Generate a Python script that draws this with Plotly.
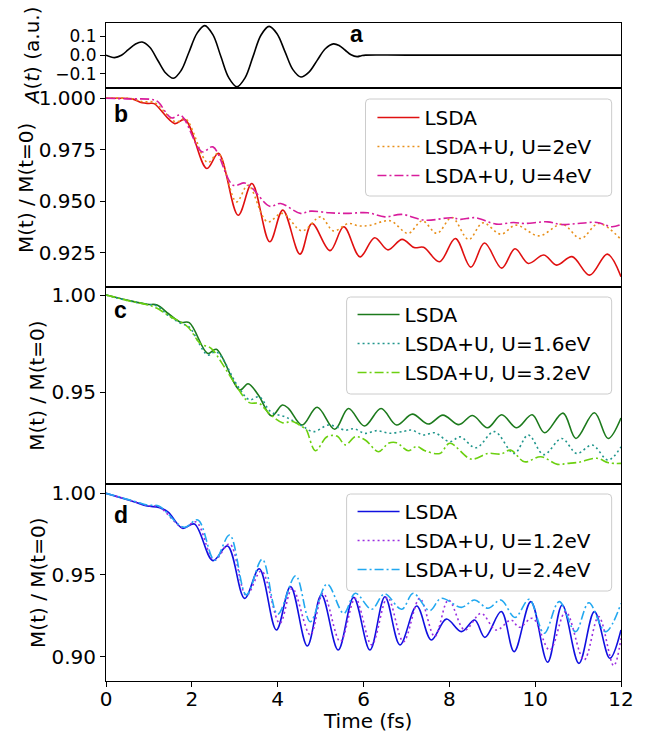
import plotly.graph_objects as go
from plotly.subplots import make_subplots

# ---------------- panel a: vector potential of the pump pulse ----------------
t_pulse = [0.0, 0.2, 0.36, 0.52, 0.68, 0.84, 1.02, 1.205, 1.39, 1.57, 1.75, 1.935,
           2.12, 2.30, 2.49, 2.675, 2.86, 3.05, 3.24, 3.425, 3.61, 3.80, 3.985,
           4.17, 4.355, 4.54, 4.73, 4.92, 5.11, 5.30, 5.44, 5.575, 5.71, 5.85,
           5.95, 6.05, 7.0, 12.0]
a_pulse = [0.0, -0.013, -0.001, 0.029, 0.058, 0.070, 0.042, -0.027, -0.095, -0.123,
           -0.082, 0.017, 0.116, 0.157, 0.109, -0.006, -0.120, -0.168, -0.121,
           -0.008, 0.106, 0.153, 0.114, 0.019, -0.077, -0.116, -0.090, -0.028,
           0.034, 0.060, 0.050, 0.026, 0.002, -0.008, -0.003, 0.0, 0.0, 0.0]

# ---------------- panel b ----------------
t_b_lsda = [0.0, 0.3, 0.61, 0.84, 1.0, 1.12, 1.60, 1.84, 2.35, 2.62, 3.08, 3.40,
            3.815, 4.12, 4.52, 4.80, 5.22, 5.54, 5.92, 6.26, 6.57, 6.90, 7.18,
            7.40, 7.77, 8.14, 8.50, 8.82, 9.22, 9.53, 9.84, 10.20, 10.50, 10.86,
            11.27, 11.68, 12.0]
m_b_lsda = [1.0000, 1.0000, 0.9997, 0.9978, 0.9975, 0.9974, 0.9877, 0.9897, 0.9659,
            0.9733, 0.9432, 0.9586, 0.9303, 0.9457, 0.9243, 0.9392, 0.9260, 0.9376,
            0.9230, 0.9323, 0.9264, 0.9315, 0.9275, 0.9276, 0.9206, 0.9319, 0.9180,
            0.9297, 0.9175, 0.9269, 0.9198, 0.9239, 0.9190, 0.9231, 0.9141, 0.9243,
            0.9133]

t_b_u2 = [0.0, 0.6, 0.85, 1.12, 1.63, 1.85, 2.37, 2.61, 3.04, 3.31, 3.76, 4.11,
          4.57, 5.00, 5.30, 5.65, 5.90, 6.15, 6.62, 7.04, 7.37, 7.71, 8.06, 8.45,
          8.78, 9.20, 9.55, 10.09, 10.63, 11.06, 11.48, 12.0]
m_b_u2 = [1.0000, 0.9998, 0.9983, 0.9980, 0.9885, 0.9901, 0.9688, 0.9732, 0.9497,
          0.9578, 0.9400, 0.9441, 0.9356, 0.9424, 0.9356, 0.9392, 0.9380, 0.9383,
          0.9405, 0.9344, 0.9405, 0.9344, 0.9421, 0.9314, 0.9395, 0.9340, 0.9384,
          0.9332, 0.9389, 0.9319, 0.9392, 0.9314]

t_b_u4 = [0.0, 0.5, 1.04, 1.2, 1.52, 1.74, 2.24, 2.49, 2.96, 3.23, 3.40, 3.815,
          4.07, 4.53, 4.77, 5.2, 5.6, 6.1, 6.50, 6.89, 7.43, 8.05, 8.26, 8.6, 9.09,
          9.5, 9.74, 10.29, 10.6, 11.0, 11.44, 11.79, 12.0]
m_b_u4 = [1.0000, 0.9997, 0.9995, 0.9985, 0.9905, 0.9918, 0.9740, 0.9764, 0.9578,
          0.9589, 0.9565, 0.9476, 0.9489, 0.9441, 0.9452, 0.9444, 0.9441, 0.9444,
          0.9424, 0.9436, 0.9408, 0.9420, 0.9412, 0.9420, 0.9389, 0.9397, 0.9392,
          0.9400, 0.9387, 0.9392, 0.9397, 0.9376, 0.9387]

# ---------------- panel c ----------------
t_c_lsda = [0.0, 0.49, 0.96, 1.19, 1.45, 1.74, 1.94, 2.37, 2.57, 3.12, 3.31, 3.55,
            3.86, 4.11, 4.25, 4.57, 4.92, 5.33, 5.65, 6.02, 6.41, 6.77, 7.14, 7.51,
            7.85, 8.22, 8.54, 8.89, 9.22, 9.57, 9.93, 10.22, 10.65, 10.95, 11.38,
            11.70, 12.0]
m_c_lsda = [1.0000, 0.9974, 0.9952, 0.9949, 0.9905, 0.9860, 0.9858, 0.9700, 0.9721,
            0.9512, 0.9544, 0.9486, 0.9378, 0.9435, 0.9418, 0.9332, 0.9423, 0.9310,
            0.9417, 0.9327, 0.9417, 0.9332, 0.9388, 0.9337, 0.9383, 0.9334, 0.9381,
            0.9318, 0.9385, 0.9318, 0.9385, 0.9292, 0.9393, 0.9263, 0.9395, 0.9263,
            0.9368]

t_c_u16 = [0.0, 0.49, 0.96, 1.19, 1.45, 1.74, 1.94, 2.37, 2.57, 3.08, 3.34, 3.57,
           3.84, 4.2, 4.57, 4.84, 5.19, 5.58, 5.78, 6.04, 6.31, 6.6, 6.95, 7.12,
           7.40, 7.66, 8.01, 8.25, 8.62, 9.05, 9.51, 9.84, 10.20, 10.62, 10.97,
           11.33, 11.70, 12.0]
m_c_u16 = [1.0000, 0.9972, 0.9952, 0.9943, 0.9895, 0.9855, 0.9835, 0.9692, 0.9708,
           0.9529, 0.9462, 0.9477, 0.9400, 0.9372, 0.9327, 0.9298, 0.9332, 0.9306,
           0.9313, 0.9289, 0.9303, 0.9290, 0.9300, 0.9306, 0.9281, 0.9292, 0.9246,
           0.9271, 0.9215, 0.9298, 0.9186, 0.9281, 0.9180, 0.9263, 0.9186, 0.9229,
           0.9152, 0.9220]

t_c_u32 = [0.0, 0.5, 0.96, 1.19, 1.45, 1.90, 2.2, 2.45, 2.7, 3.0, 3.34, 3.57, 3.80,
           4.11, 4.35, 4.57, 4.66, 4.88, 5.15, 5.38, 5.58, 5.81, 6.04, 6.35, 6.58,
           6.77, 7.04, 7.24, 7.43, 7.78, 8.01, 8.51, 8.9, 9.2, 9.43, 9.75, 10.13,
           10.52, 10.75, 11.0, 11.44, 11.71, 12.0]
m_c_u32 = [1.0000, 0.9972, 0.9950, 0.9932, 0.9895, 0.9837, 0.9750, 0.9726, 0.9650,
           0.9546, 0.9447, 0.9443, 0.9392, 0.9344, 0.9350, 0.9323, 0.9310, 0.9200,
           0.9272, 0.9275, 0.9230, 0.9272, 0.9255, 0.9195, 0.9238, 0.9241, 0.9200,
           0.9222, 0.9200, 0.9186, 0.9238, 0.9157, 0.9186, 0.9183, 0.9203, 0.9143,
           0.9169, 0.9130, 0.9135, 0.9140, 0.9161, 0.9138, 0.9135]

# ---------------- panel d ----------------
t_d_lsda = [0.0, 0.65, 0.96, 1.23, 1.45, 1.78, 2.06, 2.49, 2.83, 3.23, 3.57, 3.97,
            4.30, 4.69, 5.02, 5.41, 5.77, 6.15, 6.50, 6.85, 7.24, 7.58, 7.93, 8.28,
            8.59, 8.83, 9.21, 9.51, 9.90, 10.29, 10.63, 11.02, 11.38, 11.74, 12.0]
m_d_lsda = [1.0000, 0.9949, 0.9922, 0.9914, 0.9885, 0.9786, 0.9812, 0.9588, 0.9678,
            0.9357, 0.9538, 0.9163, 0.9429, 0.9065, 0.9378, 0.9041, 0.9363, 0.9041,
            0.9367, 0.9072, 0.9310, 0.9102, 0.9230, 0.9153, 0.9224, 0.9118, 0.9276,
            0.9031, 0.9337, 0.8966, 0.9316, 0.8959, 0.9276, 0.8990, 0.9163]

t_d_u12 = [0.0, 0.65, 0.96, 1.23, 1.8, 2.10, 2.52, 2.88, 3.27, 3.62, 4.05, 4.34,
           4.76, 5.06, 5.46, 5.81, 6.19, 6.56, 6.93, 7.31, 7.66, 7.98, 8.36, 8.74,
           9.09, 9.44, 9.63, 9.94, 10.34, 10.71, 11.14, 11.48, 11.83, 12.0]
m_d_u12 = [1.0000, 0.9950, 0.9925, 0.9918, 0.9790, 0.9825, 0.9590, 0.9690, 0.9375,
           0.9525, 0.9204, 0.9418, 0.9133, 0.9388, 0.9092, 0.9357, 0.9072, 0.9363,
           0.9092, 0.9357, 0.9123, 0.9347, 0.9163, 0.9265, 0.9163, 0.9224, 0.9180,
           0.9235, 0.9040, 0.9276, 0.8980, 0.9245, 0.8945, 0.9112]

t_d_u24 = [0.0, 0.65, 0.96, 1.23, 1.82, 2.14, 2.53, 2.88, 3.27, 3.64, 4.00, 4.42,
           4.76, 5.15, 5.54, 5.81, 6.19, 6.49, 6.89, 7.16, 7.54, 7.81, 8.28, 8.59,
           8.90, 9.20, 9.53, 9.86, 10.21, 10.56, 10.94, 11.25, 11.64, 12.0]
m_d_u24 = [1.0000, 0.9952, 0.9928, 0.9922, 0.9792, 0.9837, 0.9590, 0.9745, 0.9378,
           0.9596, 0.9260, 0.9495, 0.9214, 0.9445, 0.9265, 0.9388, 0.9290, 0.9384,
           0.9290, 0.9388, 0.9282, 0.9357, 0.9302, 0.9347, 0.9296, 0.9347, 0.9240,
           0.9351, 0.9143, 0.9337, 0.9153, 0.9330, 0.9153, 0.9326]

x_ticks = [0, 2, 4, 6, 8, 10, 12]
a_ticks = [-0.1, 0.0, 0.1]
a_tick_text = ["\u22120.1", "0.0", "0.1"]

# ---------------- figure geometry (pixels) ----------------
W, H = 646, 733
L, R, T, B = 106, 22, 23, 52
PW, PH = W - L - R, H - T - B


def px_x(px):
    return (px - L) / PW


def px_y(py):
    return (H - B - py) / PH


def rounded_box(x0, y0, x1, y1, r=4):
    """Rounded rectangle path (pixel corners) in paper coordinates."""
    rx, ry = r / PW, r / PH
    X0, X1 = px_x(x0), px_x(x1)
    Yt, Yb = px_y(y0), px_y(y1)
    return (f"M{X0 + rx},{Yt} L{X1 - rx},{Yt} Q{X1},{Yt} {X1},{Yt - ry} "
            f"L{X1},{Yb + ry} Q{X1},{Yb} {X1 - rx},{Yb} L{X0 + rx},{Yb} "
            f"Q{X0},{Yb} {X0},{Yb + ry} L{X0},{Yt - ry} Q{X0},{Yt} {X0 + rx},{Yt} Z")


FONT = "DejaVu Sans"
FS = 20
DOT = "2px,3px"
DASHDOT = "9px,3px,2px,3px"
LW = 1.6

fig = make_subplots(rows=4, cols=1)


def add_line(row, t, m, name, color, dash, legend):
    fig.add_trace(
        go.Scatter(x=t, y=m, mode="lines", name=name,
                   line=dict(color=color, width=LW, dash=dash,
                             shape="spline", smoothing=1.0),
                   legend=legend, showlegend=legend is not None),
        row=row, col=1)


fig.add_trace(go.Scatter(x=t_pulse, y=a_pulse, mode="lines", showlegend=False,
                         line=dict(color="black", width=LW, shape="spline", smoothing=1.0)),
              row=1, col=1)

add_line(2, t_b_lsda, m_b_lsda, "LSDA", "#e01010", "solid", "legend")
add_line(2, t_b_u2, m_b_u2, "LSDA+U, U=2eV", "#e8901c", DOT, "legend")
add_line(2, t_b_u4, m_b_u4, "LSDA+U, U=4eV", "#d81c9c", DASHDOT, "legend")

add_line(3, t_c_lsda, m_c_lsda, "LSDA", "#1c7a1c", "solid", "legend2")
add_line(3, t_c_u16, m_c_u16, "LSDA+U, U=1.6eV", "#20968c", DOT, "legend2")
add_line(3, t_c_u32, m_c_u32, "LSDA+U, U=3.2eV", "#6cd010", DASHDOT, "legend2")

add_line(4, t_d_lsda, m_d_lsda, "LSDA", "#1010e0", "solid", "legend3")
add_line(4, t_d_u12, m_d_u12, "LSDA+U, U=1.2eV", "#9b30e0", DOT, "legend3")
add_line(4, t_d_u24, m_d_u24, "LSDA+U, U=2.4eV", "#22a8f0", DASHDOT, "legend3")

# panel domains, top to bottom
domains = [[px_y(88.3), 1.0], [px_y(286.7), px_y(88.3)],
           [px_y(484.0), px_y(286.7)], [0.0, px_y(484.0)]]
y_ranges = [[-0.1765, 0.171], [0.9085, 1.00485], [0.9029, 1.00427], [0.8851, 1.0057]]
y_ticks = [a_ticks, [0.925, 0.950, 0.975, 1.000], [0.95, 1.00], [0.90, 0.95, 1.00]]
y_fmt = [".1f", ".3f", ".2f", ".2f"]

axis_common = dict(showline=True, mirror=True, linecolor="black", linewidth=1,
                   showgrid=False, zeroline=False)
tick_font = dict(family=FONT, size=FS, color="black")

for i in range(4):
    suffix = "" if i == 0 else str(i + 1)
    last = i == 3
    fig.layout["xaxis" + suffix].update(
        domain=[0, 1], range=[0, 12], tickvals=x_ticks,
        ticks="outside" if last else "", ticklen=5, tickwidth=1, tickcolor="black",
        showticklabels=last, tickfont=tick_font, ticklabelstandoff=-5, **axis_common)
    fig.layout["yaxis" + suffix].update(
        domain=domains[i], range=y_ranges[i], tickvals=y_ticks[i],
        tickformat=y_fmt[i], ticks="outside", ticklen=5, tickwidth=1,
        tickcolor="black", tickfont=tick_font, **axis_common)
# the short pulse panel packs its three labels tightly
fig.layout.yaxis.ticktext = a_tick_text
fig.layout.yaxis.tickfont = dict(family=FONT, size=17, color="black")

legend_common = dict(xanchor="left", yanchor="top", bgcolor="rgba(0,0,0,0)",
                     borderwidth=0, itemwidth=42, tracegroupgap=0,
                     font=dict(family=FONT, size=FS, color="black"))
fig.update_layout(
    legend=dict(x=px_x(374), y=px_y(98), **legend_common),
    legend2=dict(x=px_x(354), y=px_y(295), **legend_common),
    legend3=dict(x=px_x(354), y=px_y(492), **legend_common),
)

# legend frames
for (x0, y0, x1, y1) in [(367, 99, 614.6, 196), (348, 297, 614.6, 394), (348, 494, 614.6, 591)]:
    fig.add_shape(type="path", xref="paper", yref="paper", path=rounded_box(x0, y0, x1, y1),
                  fillcolor="rgba(255,255,255,0.8)", line=dict(color="#cccccc", width=1),
                  layer="above")

annotations = []
# axis titles
annotations.append(dict(text="Time (fs)", x=px_x(369), y=px_y(721), xref="paper", yref="paper",
                        showarrow=False, xanchor="center", yanchor="middle",
                        font=dict(family=FONT, size=FS, color="black")))
for txt, cx, cy in [("<i>A</i>(<i>t</i>) (a.u.)", 31, 55.8),
                    ("M(t) / M(t=0)", 25, 187.5),
                    ("M(t) / M(t=0)", 37, 385.3),
                    ("M(t) / M(t=0)", 37, 582.5)]:
    annotations.append(dict(text=txt, x=px_x(cx), y=px_y(cy), xref="paper", yref="paper",
                            showarrow=False, xanchor="center", yanchor="middle", textangle=-90,
                            font=dict(family=FONT, size=FS, color="black")))
# panel letters
for txt, lx, my in [("a", 349, 34), ("b", 112, 113.7), ("c", 112.5, 310.3), ("d", 112, 514.7)]:
    annotations.append(dict(text=txt, x=px_x(lx), y=px_y(my), xref="paper", yref="paper",
                            showarrow=False, xanchor="left", yanchor="middle",
                            font=dict(family="Liberation Sans", size=23, color="black",
                                      weight="bold")))

fig.update_layout(
    width=W, height=H, margin=dict(l=L, r=R, t=T, b=B, pad=0),
    paper_bgcolor="white", plot_bgcolor="white",
    annotations=annotations,
)

fig.write_html("out.html")
